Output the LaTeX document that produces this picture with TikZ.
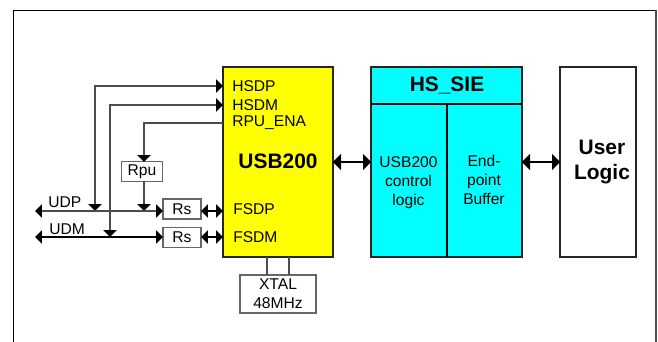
\documentclass[tikz,border=0pt]{standalone}
\usepackage{fontspec}
\setmainfont{Liberation Sans}
\usetikzlibrary{arrows.meta}
\definecolor{usbyellow}{RGB}{255,255,0}
\definecolor{siecyan}{RGB}{0,255,255}
\tikzset{
  bigblock/.style={draw=black!85, line width=1.5pt, inner sep=0pt, align=center},
  smallbox/.style={draw=black!60, line width=0.8pt, fill=white, inner sep=0pt, align=center},
  pinlabel/.style={anchor=west, inner sep=0pt, font=\fontsize{11.7}{14}\selectfont},
  sig/.style={draw=black!70, line width=0.8pt, >={Triangle[length=5.2pt,width=10pt,color=black]}},
  bus/.style={draw=black, line width=1.1pt, >={Triangle[length=6pt,width=12pt,color=black]}}
}
\begin{document}
\begin{tikzpicture}[x=0.75pt,y=-0.75pt]
\useasboundingbox (0,0) rectangle (658,342);
% outer frame
\coordinate (framea) at (13.5,342);
\coordinate (frameb) at (13.5,10.5);
\coordinate (framec) at (656,10.5);
\coordinate (framed) at (656,342);
\draw [line width=0.9pt] (framea) -- (frameb) -- (framec);
\draw [line width=1.2pt, black!70] (framec) -- (framed);
% main blocks
\node (usb) [bigblock, fill=usbyellow, minimum width=82.5pt, minimum height=142.5pt] at (278,162) {};
\node (sie) [bigblock, fill=siecyan, minimum width=113pt, minimum height=142.5pt] at (446.5,162) {};
\node (user) [bigblock, fill=white, minimum width=57pt, minimum height=142.5pt] at (598,162) {};
\node (usertext) [inner sep=0pt, align=center, font=\fontsize{15.7}{19}\selectfont\bfseries] at (602,162) {User\\Logic};
\node (usbtext) [inner sep=0pt, font=\fontsize{15.7}{19}\selectfont\bfseries] at (278,161) {USB200};
% inside HS_SIE
\coordinate (siea) at (371,104);
\coordinate (sieb) at (522,104);
\coordinate (siec) at (447,104);
\coordinate (sied) at (447,257);
\draw [line width=1.1pt] (siea) -- (sieb);
\draw [line width=0.8pt] (siec) -- (sied);
\node (sietext) [inner sep=0pt, font=\fontsize{15.7}{19}\selectfont\bfseries] at (447,85) {HS\_SIE};
\node (ctrl) [inner sep=0pt, align=center, font=\fontsize{11.7}{14.3}\selectfont] at (408.5,183) {USB200\\control\\logic};
\node (buf) [inner sep=0pt, align=center, font=\fontsize{11.7}{14.3}\selectfont] at (484,180) {End-\\point\\Buffer};
% pin labels
\node (hsdp) [pinlabel] at (232,86) {HSDP};
\node (hsdm) [pinlabel] at (232,105) {HSDM};
\node (rpuena) [pinlabel] at (232,123) {RPU\_ENA};
\node (fsdp) [pinlabel] at (233,209) {FSDP};
\node (fsdm) [pinlabel] at (233,237) {FSDM};
\node (udp) [pinlabel] at (48,202) {UDP};
\node (udm) [pinlabel] at (49,229) {UDM};
% small boxes
\node (rpu) [smallbox, minimum width=31pt, minimum height=14.5pt, font=\fontsize{11.7}{14}\selectfont] at (142,171.5) {Rpu};
\node (rsa) [smallbox, minimum width=28.5pt, minimum height=15pt, font=\fontsize{11.7}{14}\selectfont] at (182,209) {Rs};
\node (rsb) [smallbox, minimum width=28.5pt, minimum height=15pt, font=\fontsize{11.7}{14}\selectfont] at (182,237.5) {Rs};
\node (xtal) [smallbox, minimum width=57pt, minimum height=28.5pt, font=\fontsize{11.7}{14.3}\selectfont] at (278,294) {XTAL\\48MHz};
% pin ends
\coordinate (hsdppin) at (223,86);
\coordinate (hsdmpin) at (223,105);
\coordinate (rpupin) at (223,123);
\coordinate (fsdppin) at (223,211);
\coordinate (fsdmpin) at (223,237);
\coordinate (udpend) at (35,211);
\coordinate (udmend) at (35,237);
\coordinate (udphs) at (95,211);
\coordinate (udmhs) at (110,237);
\coordinate (udprpu) at (144,211);
\coordinate (rsain) at (163,211);
\coordinate (rsbin) at (163,237);
\coordinate (rsaout) at (201,211);
\coordinate (rsbout) at (201,237);
\coordinate (rputop) at (144,162);
\coordinate (rpubot) at (144,181);
\coordinate (xtala) at (267,257);
\coordinate (xtalb) at (267,275);
\coordinate (xtalc) at (289,257);
\coordinate (xtald) at (289,275);
% connectors
\draw [sig, <->] (udphs) |- (hsdppin);
\draw [sig, <->] (udmhs) |- (hsdmpin);
\draw [sig, ->] (rpupin) -| (rputop);
\draw [sig, ->] (rpubot) -- (udprpu);
\draw [sig, <->] (udpend) -- (rsain);
\draw [sig, <->, draw=black] (udmend) -- (rsbin);
\draw [sig, <->, draw=black] (rsaout) -- (fsdppin);
\draw [sig, <->, draw=black] (rsbout) -- (fsdmpin);
\draw [sig] (xtala) -- (xtalb);
\draw [sig] (xtalc) -- (xtald);
\coordinate (usbbus) at (333,162);
\coordinate (siebusa) at (371,162);
\coordinate (siebusb) at (522,162);
\coordinate (userbus) at (560,162);
\draw [bus, <->] (usbbus) -- (siebusa);
\draw [bus, <->] (siebusb) -- (userbus);
\end{tikzpicture}
\end{document}
